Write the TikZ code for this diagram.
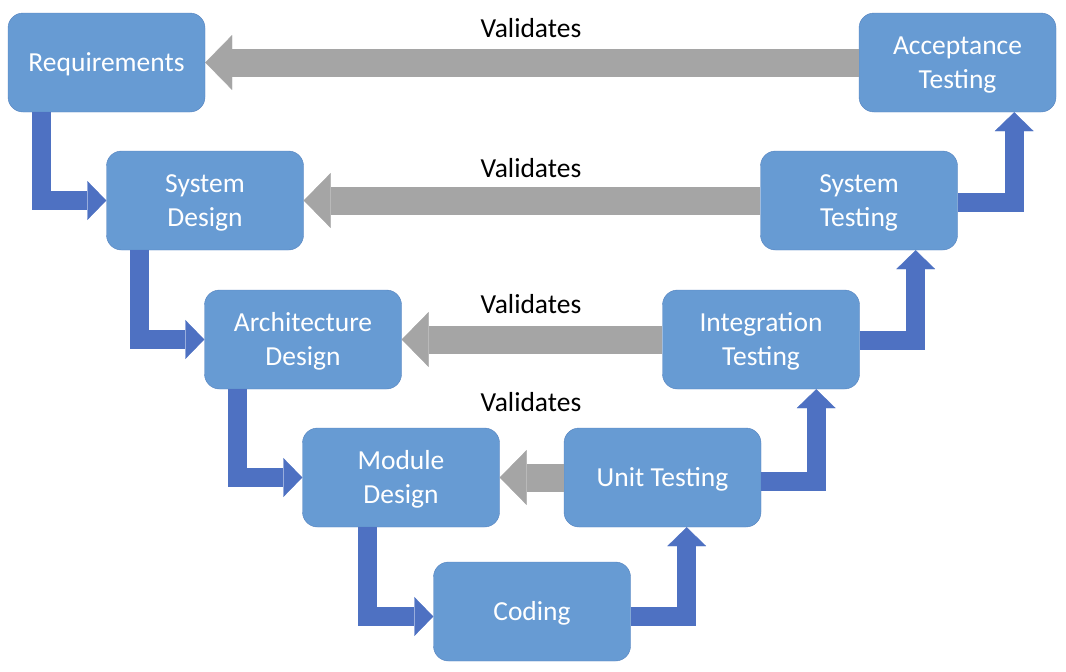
\documentclass[tikz,border=0pt]{standalone}
\usepackage{fontspec}
\setmainfont{Carlito}
\usetikzlibrary{arrows.meta, calc}
\definecolor{stagefill}{RGB}{103,155,211}
\definecolor{stageline}{RGB}{84,130,190}
\definecolor{flowblue}{RGB}{78,113,194}
\definecolor{checkgray}{RGB}{165,165,165}

\tikzset{
	stage/.style={draw=stageline, fill=stagefill, rounded corners=15pt, minimum width=197pt, minimum height=99pt, inner sep=0pt, align=center, text depth=0.5pt, text=white, font=\fontsize{27.5}{34}\selectfont},
	flow/.style={draw=flowblue, line width=19pt, line join=miter, -{Triangle[width=39pt, length=19pt, line width=0.4pt]}},
	check/.style={draw=checkgray, line width=28pt, -{Triangle[width=55pt, length=27pt, line width=0.4pt]}},
	tag/.style={anchor=base, font=\fontsize{27.5}{34}\selectfont}
}

\begin{document}
\begin{tikzpicture}[x=1pt, y=-1pt]
	\useasboundingbox (0,0) rectangle (1066,672);
	% left leg of the V
	\node[stage] (req) at (106.5,62.5) {Requirements};
	\node[stage] (sysd) at (205,200.5) {System\\Design};
	\node[stage] (arch) at (303,339.5) {Architecture\\Design};
	\node[stage] (mod) at (401,477.5) {Module\\Design};
	\node[stage] (cod) at (532,611.5) {Coding};
	% right leg of the V
	\node[stage] (unit) at (662.5,477.5) {Unit Testing};
	\node[stage] (integ) at (761,339.5) {Integration\\Testing};
	\node[stage] (syst) at (859,200.5) {System\\Testing};
	\node[stage] (acc) at (957.5,62.5) {Acceptance\\Testing};

	\draw[flow] ([xshift=34pt]req.south west) |- (sysd.west);
	\draw[flow] ([xshift=33pt]sysd.south west) |- (arch.west);
	\draw[flow] ([xshift=33pt]arch.south west) |- (mod.west);
	\draw[flow] ([xshift=65pt]mod.south west) |- ([yshift=-5pt]cod.west);
	\draw[flow] ([yshift=-5pt]cod.east) -| ($(cod.east |- unit.south)+(56,0)$);
	\draw[flow] ([yshift=-4pt]unit.east) -| ($(unit.east |- integ.south)+(55,0)$);
	\draw[flow] ([yshift=-1pt]integ.east) -| ($(integ.east |- syst.south)+(56,0)$);
	\draw[flow] ([yshift=-1.5pt]syst.east) -| ($(syst.east |- acc.south)+(56.5,0)$);

	\draw[check] (acc.west) -- (req.east);
	\draw[check] (syst.west) -- (sysd.east);
	\draw[check] (integ.west) -- (arch.east);
	\draw[check] (unit.west) -- (mod.east);

	\node[tag] (v1) at (531,37) {Validates};
	\node[tag] (v2) at (531,177) {Validates};
	\node[tag] (v3) at (531,313) {Validates};
	\node[tag] (v4) at (531,411) {Validates};
\end{tikzpicture}
\end{document}
